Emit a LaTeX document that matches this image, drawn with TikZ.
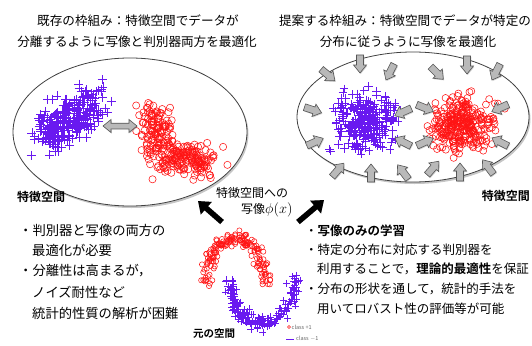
\documentclass[tikz,border=0pt]{standalone}
\usepackage{fontspec}
\setmainfont{Noto Sans CJK JP}[BoldFont={Noto Sans CJK JP Bold}]
\usetikzlibrary{shadows,arrows.meta,shapes.geometric}
\definecolor{cpurple}{RGB}{105,25,240}
\definecolor{cred}{RGB}{255,20,20}
\definecolor{agray}{RGB}{185,185,185}
\definecolor{aedge}{RGB}{85,85,85}
\tikzset{
  ellipsebox/.style={ellipse,draw=black!75,line width=0.8pt,fill=white,inner sep=0pt,
    drop shadow={shadow xshift=1.5pt,shadow yshift=-2pt,opacity=0.45}},
  pmark/.style={draw=cpurple,line width=0.55pt},
  omark/.style={draw=cred,line width=0.55pt},
  ttl/.style={font=\fontsize{12.6}{15}\selectfont,inner sep=0pt},
  lbul/.style={font=\fontsize{13.3}{16}\selectfont,inner sep=0pt,anchor=west},
  rbul/.style={font=\fontsize{12.5}{15}\selectfont,inner sep=0pt,anchor=west},
  lab/.style={font=\fontsize{12}{14}\selectfont\bfseries,inner sep=0pt},
  leg/.style={font=\fontsize{5.5}{6}\selectfont,text=black!60,inner sep=0pt,anchor=west},
  bigarrow/.style={line width=5.5pt,-{Triangle[length=11pt,width=16pt]}},
  garrowstyle/.style={fill=agray,draw=aedge,line width=0.6pt,
    drop shadow={shadow xshift=0.8pt,shadow yshift=-1pt,opacity=0.35}}
}
\newcommand\garrow[3]{%
  \begin{scope}[shift={(#1,#2)},rotate=#3]
    \path[garrowstyle] (-9,-3.5)--(1,-3.5)--(1,-6.5)--(9,0)--(1,6.5)--(1,3.5)--(-9,3.5)--cycle;
  \end{scope}}
\begin{document}
\begin{tikzpicture}[x=1pt,y=-1pt]
\useasboundingbox (0,0) rectangle (532,345);

% titles
\node[ttl] (tl1) at (138,21) {既存の枠組み：特徴空間でデータが};
\node[ttl] (tl2) at (137,42) {分離するように写像と判別器両方を最適化};
\node[ttl] (tr1) at (405,21) {提案する枠組み：特徴空間でデータが特定の};
\node[ttl] (tr2) at (408,42) {分布に従うように写像を最適化};

% ellipses
\node[ellipsebox,minimum width=234pt,minimum height=148pt] (fsL) at (130,132) {};
\node[ellipsebox,minimum width=232pt,minimum height=130pt] (fsR) at (413,117) {};

\pgfmathsetseed{4321}
% left blue pluses
\foreach \i in {1,...,280}{
  \pgfmathsetmacro\t{rnd}
  \pgfmathsetmacro\px{44+52*\t+10.5*(rand+rand+rand)}
  \pgfmathsetmacro\py{138-38*\t+10*(rand+rand+rand)}
  \draw[pmark] (\px,\py) +(-4.5,0) -- +(4.5,0) +(0,-4.5) -- +(0,4.5);
}
% left red circles
\foreach \i in {1,...,280}{
  \pgfmathsetmacro\t{rnd}
  \ifdim\t pt<0.42pt
    \pgfmathsetmacro\px{152+20*\t+8*(rand+rand+rand)}
    \pgfmathsetmacro\py{104+115*\t+9*(rand+rand+rand)}
  \else
    \pgfmathsetmacro\px{162+80*(\t-0.42)+9*(rand+rand+rand)}
    \pgfmathsetmacro\py{158+6*(\t-0.42)+9*(rand+rand+rand)}
  \fi
  \draw[omark] (\px,\py) circle[radius=3.6];
}
% right blue pluses
\foreach \i in {1,...,280}{
  \pgfmathsetmacro\px{365+14.5*(rand+rand+rand)}
  \pgfmathsetmacro\py{122+14*(rand+rand+rand)}
  \draw[pmark] (\px,\py) +(-4.2,0) -- +(4.2,0) +(0,-4.2) -- +(0,4.2);
}
% right red circles
\foreach \i in {1,...,300}{
  \pgfmathsetmacro\px{462+16*(rand+rand+rand)}
  \pgfmathsetmacro\py{124+13*(rand+rand+rand)}
  \draw[omark] (\px,\py) circle[radius=3.5];
}

% gray double arrow (left)
\path[garrowstyle] (103,126)--(111,119.5)--(111,123.2)--(129,123.2)--(129,119.5)--(137,126)
  --(129,132.5)--(129,128.8)--(111,128.8)--(111,132.5)--cycle;

% gray inward arrows (right)
\garrow{328}{75}{-40}
\garrow{360}{64}{-90}
\garrow{390}{72}{-117}
\garrow{437}{73}{-45}
\garrow{467}{65}{-90}
\garrow{496}{72}{-117}
\garrow{313}{110}{-18}
\garrow{315}{142}{24}
\garrow{338}{170}{49}
\garrow{371}{173}{90}
\garrow{403}{172}{127}
\garrow{403}{112}{204}
\garrow{403}{142}{153}
\garrow{425}{108}{-22}
\garrow{425}{142}{24}
\garrow{433}{168}{49}
\garrow{460}{172}{90}
\garrow{488}{167}{127}
\garrow{500}{108}{204}
\garrow{500}{142}{153}

% labels
\node[lab,anchor=west] (lfs) at (17,197) {特徴空間};
\node[lab,anchor=east] (rfs) at (530,196) {特徴空間};
\node[font=\fontsize{12}{14}\selectfont,inner sep=0pt] (map1) at (252,193) {特徴空間への};
\node[font=\fontsize{12}{14}\selectfont,inner sep=0pt,anchor=west] (map2) at (241,210) {写像\fontsize{14}{16}\selectfont$\phi(x)$};

% black arrows
\coordinate (aLt) at (222,222);
\coordinate (aLh) at (198,201);
\coordinate (aRt) at (298,222);
\coordinate (aRh) at (324,200);
\begin{scope}[shift={(1.2,1.5)}]
\draw[bigarrow,draw=black!35] (aLt) -- (aLh);
\draw[bigarrow,draw=black!35] (aRt) -- (aRh);
\end{scope}
\draw[bigarrow] (aLt) -- (aLh);
\draw[bigarrow] (aRt) -- (aRh);

% moons
\foreach \i in {1,...,170}{
  \pgfmathsetmacro\a{180*rnd}
  \pgfmathsetmacro\px{236+30*cos(\a)+3.3*(rand+rand+rand)}
  \pgfmathsetmacro\py{282-44*sin(\a)+3.3*(rand+rand+rand)}
  \draw[omark] (\px,\py) circle[radius=2.6];
}
\foreach \i in {1,...,170}{
  \pgfmathsetmacro\a{180*rnd}
  \pgfmathsetmacro\px{262-33*cos(\a)+3.3*(rand+rand+rand)}
  \pgfmathsetmacro\py{278+46*sin(\a)+3.3*(rand+rand+rand)}
  \draw[pmark] (\px,\py) +(-3.5,0) -- +(3.5,0) +(0,-3.5) -- +(0,3.5);
}
\node[lab,font=\fontsize{10.5}{12}\selectfont\bfseries,anchor=west] (orig) at (193,334) {元の空間};

% legend
\draw[omark,line width=0.4pt] (289,327) circle[radius=1.5];
\node[leg] (lg1) at (291.5,327) {class +1};
\draw[draw=cpurple,line width=0.6pt] (286,339) -- (294,339);
\node[leg] (lg2) at (296,339) {class $-$1};

% left bullets
\node[lbul] (lb1) at (19,230) {・判別器と写像の両方の};
\node[lbul] (lb2) at (32,250) {最適化が必要};
\node[lbul] (lb3) at (19,271) {・分離性は高まるが，};
\node[lbul] (lb4) at (32,292) {ノイズ耐性など};
\node[lbul] (lb5) at (32,313) {統計的性質の解析が困難};

% right bullets
\node[rbul] (rb1) at (305,231) {・\textbf{写像のみの学習}};
\node[rbul] (rb2) at (305,250) {・特定の分布に対応する判別器を};
\node[rbul] (rb3) at (317,269) {利用することで，\textbf{理論的最適性}を保証};
\node[rbul] (rb4) at (305,289) {・分布の形状を通して，統計的手法を};
\node[rbul] (rb5) at (317,309) {用いてロバスト性の評価等が可能};
\end{tikzpicture}
\end{document}
